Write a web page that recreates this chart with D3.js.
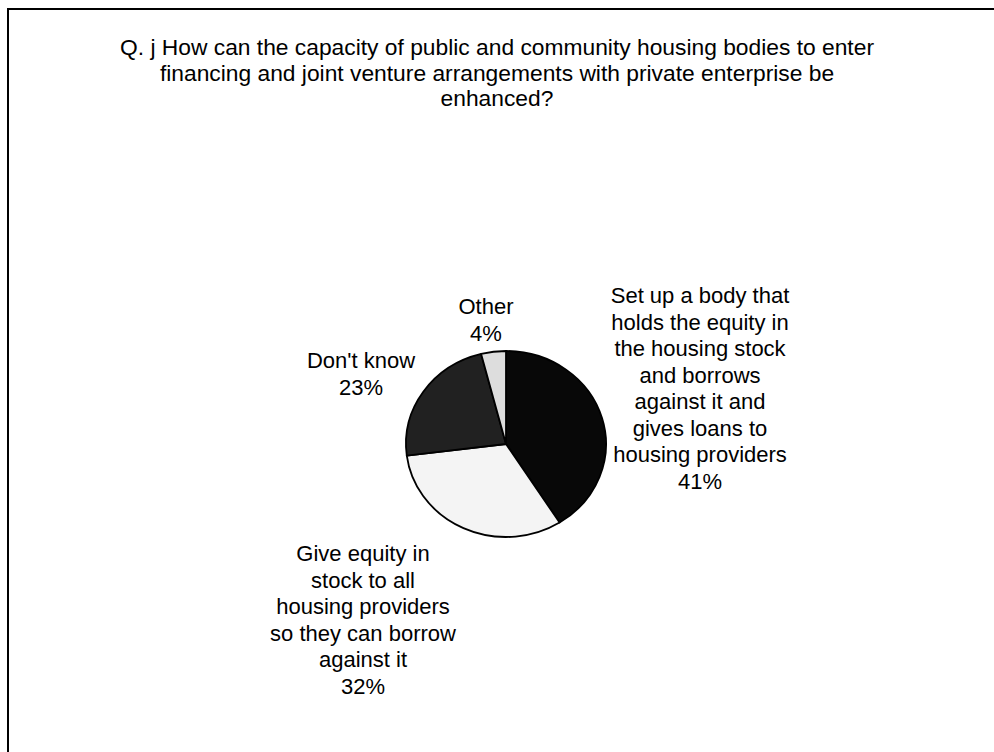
<!DOCTYPE html>
<html>
<head>
<meta charset="utf-8">
<script src="https://cdn.jsdelivr.net/npm/d3@7/dist/d3.min.js"></script>
<style>
  html, body { margin: 0; padding: 0; background: #ffffff; }
  svg { display: block; }
  text { font-family: "Liberation Sans", Arial, sans-serif; fill: #000; }
</style>
</head>
<body>
<svg id="chart" width="994" height="752"></svg>
<script>
// Survey answers, clockwise from twelve o'clock
const categories = [
  "Set up a body that holds the equity in the housing stock and borrows against it and gives loans to housing providers",
  "Give equity in stock to all housing providers so they can borrow against it",
  "Don't know",
  "Other"
];
const values = [41, 32, 23, 4];
const titleLines = [
  "Q. j How can the capacity of public and community housing bodies to enter",
  "financing and joint venture arrangements with private enterprise be",
  "enhanced?"
];
// Wrapped label text for each slice
const labelLines = [
  ["Set up a body that", "holds the equity in", "the housing stock", "and borrows", "against it and", "gives loans to", "housing providers"],
  ["Give equity in", "stock to all", "housing providers", "so they can borrow", "against it"],
  ["Don't know"],
  ["Other"]
];

const W = 994, H = 752;
const FONT = 22;
const svg = d3.select("#chart");

// Chart frame (runs off the right and bottom edges)
svg.append("rect")
  .attr("x", 8).attr("y", 9)
  .attr("width", W + 20).attr("height", H + 20)
  .attr("fill", "#fff")
  .attr("stroke", "#000")
  .attr("stroke-width", 2);

// Title
svg.append("g").selectAll("text")
  .data(titleLines)
  .join("text")
  .attr("x", 497)
  .attr("y", (d, i) => 55 + i * 25.5)
  .attr("text-anchor", "middle")
  .attr("font-size", 22.8)
  .text(d => d);

// Pie
const cx = 506, cy = 444, rx = 100, ry = 93;
const fills = ["#080808", "#f4f4f4", "#212121", "#dddddd"];

const pie = d3.pie().sort(null).value(d => d)(values);
const arc = d3.arc().innerRadius(0).outerRadius(rx);

const pieG = svg.append("g")
  .attr("transform", `translate(${cx},${cy}) scale(1,${ry / rx})`);

pieG.selectAll("path")
  .data(pie)
  .join("path")
  .attr("d", arc)
  .attr("fill", (d, i) => fills[i])
  .attr("stroke", "#000")
  .attr("stroke-width", 1.8)
  .attr("vector-effect", "non-scaling-stroke")
  .attr("stroke-linejoin", "round");

// Data labels: text blocks placed beside their slices
const labelPos = [
  { dx: 194, dy: -141 },
  { dx: -143, dy: 117 },
  { dx: -145, dy: -76 },
  { dx: -20, dy: -130 }
];
const lineH = 26.5;

const labels = svg.append("g").selectAll("g")
  .data(pie)
  .join("g")
  .attr("transform", (d, i) => `translate(${cx + labelPos[i].dx},${cy + labelPos[i].dy})`);

labels.each(function (d, i) {
  const lines = labelLines[i].concat([`${values[i]}%`]);
  d3.select(this).selectAll("text")
    .data(lines)
    .join("text")
    .attr("x", 0)
    .attr("y", (t, j) => j * lineH)
    .attr("text-anchor", "middle")
    .attr("font-size", FONT)
    .text(t => t);
});
</script>
</body>
</html>
